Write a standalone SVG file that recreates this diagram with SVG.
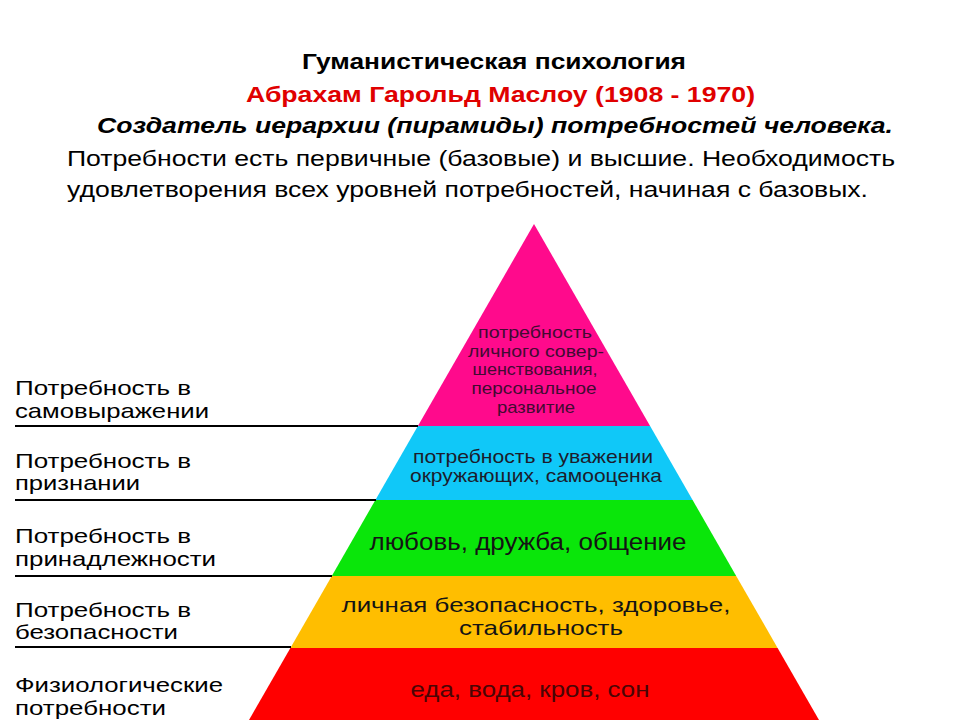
<svg xmlns="http://www.w3.org/2000/svg" width="960" height="720" viewBox="0 0 960 720">
<style>
.h{font-family:"Liberation Sans",Arial,sans-serif;font-size:22px;fill:#000}
.b{font-weight:bold}
.lbl{font-family:"Liberation Sans",Arial,sans-serif;font-size:21px;fill:#000}
.pt{font-family:"Liberation Sans",Arial,sans-serif;text-anchor:middle;fill:#141414}
.lead{stroke:#000;stroke-width:2;fill:none}
</style>
<rect width="960" height="720" fill="#fff"/>
<g id="header">
<text class="h b" x="302" y="69" textLength="384" lengthAdjust="spacingAndGlyphs">Гуманистическая психология</text>
<text class="h b" x="246" y="102" style="fill:#e00000" textLength="509" lengthAdjust="spacingAndGlyphs">Абрахам Гарольд Маслоу (1908 - 1970)</text>
<text class="h b" x="97" y="133" font-style="italic" textLength="796" lengthAdjust="spacingAndGlyphs">Создатель иерархии (пирамиды) потребностей человека.</text>
<text class="h" x="67" y="166" font-size="24" textLength="828" lengthAdjust="spacingAndGlyphs">Потребности есть первичные (базовые) и высшие. Необходимость</text>
<text class="h" x="67" y="197" font-size="24" textLength="801" lengthAdjust="spacingAndGlyphs">удовлетворения всех уровней потребностей, начиная с базовых.</text>
</g>
<g id="pyramid">
<g id="level5">
<polygon points="534,224 650.1,426 417.9,426" fill="#ff0a8c"/>
<g class="pt" font-size="17" style="fill:#420a32">
<text x="535" y="338" textLength="114" lengthAdjust="spacingAndGlyphs">потребность</text>
<text x="536" y="357" textLength="136" lengthAdjust="spacingAndGlyphs">личного совер-</text>
<text x="535" y="375" textLength="125" lengthAdjust="spacingAndGlyphs">шенствования,</text>
<text x="534" y="394" textLength="125" lengthAdjust="spacingAndGlyphs">персональное</text>
<text x="536" y="413" textLength="78" lengthAdjust="spacingAndGlyphs">развитие</text>
</g>
</g>
<g id="level4">
<polygon points="417.9,426 650.1,426 692.6,500 375.4,500" fill="#10c8f8"/>
<g class="pt" font-size="19" style="fill:#1c1c2c">
<text x="533" y="463" textLength="240" lengthAdjust="spacingAndGlyphs">потребность в уважении</text>
<text x="536" y="482" textLength="252" lengthAdjust="spacingAndGlyphs">окружающих, самооценка</text>
</g>
</g>
<g id="level3">
<polygon points="375.4,500 692.6,500 736.2,576 331.8,576" fill="#0ae60a"/>
<text class="pt" font-size="23" x="528" y="550" textLength="317" lengthAdjust="spacingAndGlyphs">любовь, дружба, общение</text>
</g>
<g id="level2">
<polygon points="331.8,576 736.2,576 777.6,648 290.4,648" fill="#ffbe00"/>
<g class="pt" font-size="21">
<text x="536" y="612" textLength="389" lengthAdjust="spacingAndGlyphs">личная безопасность, здоровье,</text>
<text x="541" y="635" textLength="164" lengthAdjust="spacingAndGlyphs">стабильность</text>
</g>
</g>
<g id="level1">
<polygon points="290.4,648 777.6,648 819,720 249,720" fill="#ff0000"/>
<text class="pt" font-size="22" x="530" y="697" style="fill:#4a0505" textLength="239" lengthAdjust="spacingAndGlyphs">еда, вода, кров, сон</text>
</g>
</g>
<g id="labels">
<g id="label-self">
<text class="lbl" x="15" y="395" textLength="176" lengthAdjust="spacingAndGlyphs">Потребность в</text>
<text class="lbl" x="15" y="418" textLength="194" lengthAdjust="spacingAndGlyphs">самовыражении</text>
</g>
<g id="label-esteem">
<text class="lbl" x="15" y="468" textLength="176" lengthAdjust="spacingAndGlyphs">Потребность в</text>
<text class="lbl" x="15" y="490" textLength="125" lengthAdjust="spacingAndGlyphs">признании</text>
</g>
<g id="label-belonging">
<text class="lbl" x="15" y="543" textLength="176" lengthAdjust="spacingAndGlyphs">Потребность в</text>
<text class="lbl" x="15" y="566" textLength="201" lengthAdjust="spacingAndGlyphs">принадлежности</text>
</g>
<g id="label-safety">
<text class="lbl" x="15" y="617" textLength="176" lengthAdjust="spacingAndGlyphs">Потребность в</text>
<text class="lbl" x="15" y="639" textLength="163" lengthAdjust="spacingAndGlyphs">безопасности</text>
</g>
<g id="label-physio">
<text class="lbl" x="15" y="692" textLength="208" lengthAdjust="spacingAndGlyphs">Физиологические</text>
<text class="lbl" x="15" y="715" textLength="151" lengthAdjust="spacingAndGlyphs">потребности</text>
</g>
</g>
<g id="connectors">
<line class="lead" x1="15" y1="426" x2="418" y2="426"/>
<line class="lead" x1="15" y1="500" x2="376" y2="500"/>
<line class="lead" x1="15" y1="576" x2="332" y2="576"/>
<line class="lead" x1="15" y1="647" x2="291" y2="647"/>
</g>
</svg>
